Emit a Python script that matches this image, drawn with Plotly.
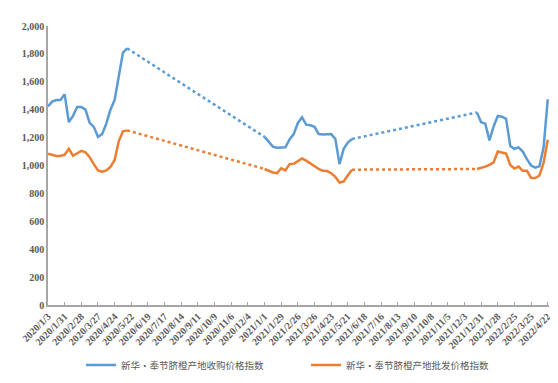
import pandas as pd
import plotly.graph_objects as go

# Weekly categories 2020/1/3 .. 2022/4/22
weeks = pd.date_range("2020-01-03", "2022-04-22", freq="7D")
categories = [f"{d.year}/{d.month}/{d.day}" for d in weeks]
tick_labels = categories[::4]

series_names = ["新华·奉节脐橙产地收购价格指数", "新华·奉节脐橙产地批发价格指数"]

# segment start weeks (data published in season only)
segment_starts = ["2020/1/3", "2021/1/1", "2021/12/24"]

buy_2020 = [1424, 1458, 1469, 1469, 1510, 1311, 1356, 1419, 1419, 1401,
            1306, 1277, 1205, 1225, 1300, 1400, 1470, 1650, 1810, 1840]
buy_2021 = [1205, 1170, 1135, 1128, 1128, 1130, 1187, 1225, 1305, 1345,
            1293, 1288, 1277, 1225, 1222, 1222, 1225, 1190, 1010, 1120,
            1165, 1190]
buy_2022 = [1380, 1310, 1300, 1180, 1280, 1355, 1350, 1335, 1140, 1120,
            1130, 1100, 1045, 1000, 985, 995, 1130, 1475]

whl_2020 = [1085, 1075, 1068, 1068, 1078, 1120, 1070, 1088, 1105, 1095,
            1060, 1010, 965, 955, 965, 990, 1040, 1175, 1245, 1252]
whl_2021 = [975, 962, 950, 945, 980, 965, 1010, 1013, 1030, 1050,
            1035, 1015, 995, 975, 962, 960, 945, 918, 878, 886,
            930, 970]
whl_2022 = [975, 982, 992, 1005, 1022, 1100, 1095, 1085, 1003, 978,
            992, 962, 962, 912, 910, 928, 1020, 1185]

colors = ["#5B9BD5", "#ED7D31"]


def build(segments):
    full = [None] * len(categories)
    bounds = []
    for start, vals in zip(segment_starts, segments):
        i0 = categories.index(start)
        for k, v in enumerate(vals):
            full[i0 + k] = v
        bounds.append((i0, i0 + len(vals) - 1))
    return full, bounds


fig = go.Figure()
for name, segs, col in [(series_names[0], [buy_2020, buy_2021, buy_2022], colors[0]),
                        (series_names[1], [whl_2020, whl_2021, whl_2022], colors[1])]:
    full, bounds = build(segs)
    fig.add_trace(go.Scatter(x=categories, y=full, mode="lines", name=name,
                             line=dict(color=col, width=2.5), connectgaps=False))
    for (a0, a1), (b0, b1) in zip(bounds[:-1], bounds[1:]):
        fig.add_trace(go.Scatter(x=[categories[a1], categories[b0]],
                                 y=[full[a1], full[b0]], mode="lines",
                                 line=dict(color=col, width=2.5, dash="dot"),
                                 showlegend=False, hoverinfo="skip"))

axis_font = dict(family="Liberation Serif", size=10, color="#595959", weight="bold")

fig.update_layout(
    width=558, height=383,
    margin=dict(l=40, r=17, t=15, b=73),
    paper_bgcolor="white", plot_bgcolor="white",
    showlegend=True,
    legend=dict(orientation="h", x=0.066, xanchor="left", y=-0.215, yanchor="middle",
                font=dict(family="Noto Sans CJK SC", size=9.5, color="#595959"),
                entrywidth=180, entrywidthmode="pixels", itemwidth=30,
                bgcolor="rgba(0,0,0,0)"),
)
fig.update_xaxes(type="category", categoryorder="array", categoryarray=categories,
                 range=[0, 120.3], tickmode="array", tickvals=tick_labels,
                 ticktext=tick_labels, tickangle=-45, tickfont=axis_font,
                 showline=True, linecolor="#A6A6A6", linewidth=1.5,
                 ticks="inside", ticklen=3, tickcolor="#A6A6A6",
                 showgrid=False, zeroline=False)
fig.update_yaxes(range=[0, 2000], dtick=200, tickformat=",d", tickfont=axis_font,
                 showline=True, linecolor="#A6A6A6", linewidth=1.5,
                 ticks="", showgrid=False, zeroline=False)

fig.write_html("out.html")
